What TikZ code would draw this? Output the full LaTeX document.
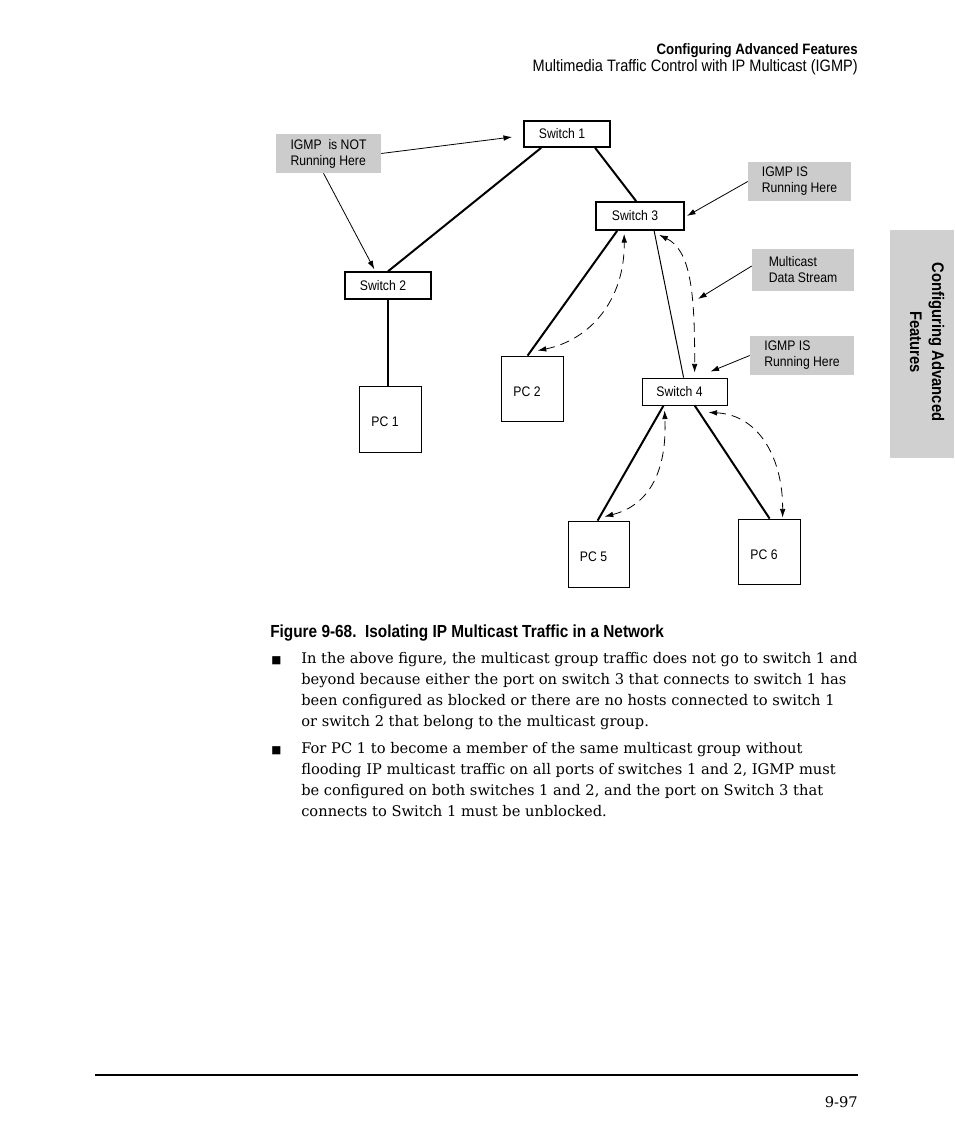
\documentclass[tikz,border=0pt]{standalone}
\usepackage{fontspec}
\newfontfamily\sfc[FakeStretch=0.88]{Liberation Sans}
\newfontfamily\serifc{DejaVu Serif}
\newfontfamily\symf{DejaVu Sans}
\usetikzlibrary{calc,arrows.meta}
\definecolor{notegray}{HTML}{CCCCCC}
\definecolor{tabgray}{HTML}{D0D0D0}
\newcommand{\pclabel}[1]{\raisebox{-2.25pt}[\height][\depth]{#1}\hspace*{7.5pt}}
\begin{document}
\begin{tikzpicture}[x=0.75pt,y=-0.75pt,
  lbl/.style={font=\sfc\fontsize{10.4}{12}\selectfont},
  sw/.style={draw, line width=1.3pt, inner sep=0pt, lbl},
  pcbox/.style={draw, line width=0.6pt, inner sep=0pt, lbl},
  note/.style={fill=notegray, inner sep=0pt, align=left, lbl},
  link/.style={line width=1.5pt},
  thinlink/.style={line width=0.75pt},
  ptr/.style={line width=0.6pt, -{Latex[length=6.5pt,width=4.2pt]}},
  flow/.style={line width=0.6pt, dash pattern=on 7pt off 4.5pt,
    {Latex[length=6.5pt,width=4.2pt]}-{Latex[length=6.5pt,width=4.2pt]}},
  body/.style={anchor=base west, inner sep=0pt},
]
\useasboundingbox (0,0) rectangle (954,1145);

% header
\node[anchor=base east, inner sep=0pt, font=\sfc\bfseries\fontsize{11.3}{13}\selectfont] (h1) at (858,54.5) {Configuring Advanced Features};
\node[anchor=base east, inner sep=0pt, font=\sfc\fontsize{12.4}{14}\selectfont] (h2) at (858,71.5) {Multimedia Traffic Control with IP Multicast (IGMP)};

% side tab
\fill[tabgray] (890,230) rectangle (954,458);
\node[rotate=-90, align=center, inner sep=0pt, font=\sfc\bfseries\fontsize{12.6}{16.5}\selectfont] (tab) at (927,342) {Configuring Advanced\\Features};

% switches and PCs
\node[sw, minimum width=64.5pt, minimum height=19.5pt] (s1) at (567,134) {Switch 1\hspace*{7.5pt}};
\node[sw, minimum width=66pt, minimum height=21pt] (s3) at (640,216) {Switch 3\hspace*{7.5pt}};
\node[sw, line width=1pt, minimum width=64.5pt, minimum height=20.25pt] (s2) at (388,285.5) {Switch 2\hspace*{7.5pt}};
\node[pcbox, minimum width=63.75pt, minimum height=20.25pt] (s4) at (684.5,391.5) {Switch 4\hspace*{7.5pt}};
\node[pcbox, minimum width=46.5pt, minimum height=49.5pt] (pc1) at (390,419) {\pclabel{PC 1}};
\node[pcbox, minimum width=46.5pt, minimum height=48.75pt] (pc2) at (532,388.5) {\pclabel{PC 2}};
\node[pcbox, minimum width=45.75pt, minimum height=49.5pt] (pc5) at (598.5,554) {\pclabel{PC 5}};
\node[pcbox, minimum width=46.5pt, minimum height=48.75pt] (pc6) at (769,551.5) {\pclabel{PC 6}};

% notes
\node[note, minimum width=78.75pt, minimum height=29.25pt] (l1) at (328.5,153.5) {IGMP\ \ is NOT\\Running Here};
\node[note, minimum width=77.25pt, minimum height=29.25pt] (l2) at (799.5,181.5) {IGMP IS\\Running Here};
\node[note, minimum width=76.5pt, minimum height=31.5pt] (l3) at (803,270) {Multicast\\Data Stream};
\node[note, minimum width=78pt, minimum height=29.25pt] (l4) at (802,355.5) {IGMP IS\\Running Here};

% links
\draw[link] ($(s1.south west)+(18,0)$) -- (s2.north);
\draw[link] ($(s1.south west)+(72,0)$) -- ($(s3.north west)+(41,0)$);
\draw[link] (s2.south) -- (s2.south |- pc1.north);
\draw[link] ($(s3.south west)+(22,0)$) -- ($(pc2.north west)+(27,0)$);
\draw[thinlink] ($(s3.south west)+(59,0)$) -- ($(s4.north west)+(42,0)$);
\draw[link] ($(s4.south west)+(22,0)$) -- ($(pc5.north west)+(30,0)$);
\draw[link] ($(s4.south west)+(53,0)$) -- ($(pc6.north west)+(32,0)$);

% multicast flows
\coordinate (f1a) at ($(pc2.north west)+(37,-5)$);
\coordinate (f1b) at ($(s3.south west)+(29,3)$);
\draw[flow] (f1a) .. controls (590,340) and (625,300) .. (f1b);
\coordinate (f2a) at ($(s3.south west)+(64,4)$);
\coordinate (f2b) at ($(s4.north west)+(53,-5)$);
\draw[flow] (f2a) .. controls (690,250) and (695,290) .. (f2b);
\coordinate (f3a) at ($(pc5.north west)+(37,-4)$);
\coordinate (f3b) at ($(s4.south west)+(23,5)$);
\draw[flow] (f3a) .. controls (650,505) and (667,470) .. (f3b);
\coordinate (f4a) at ($(s4.south east)+(-19,7)$);
\coordinate (f4b) at ($(pc6.north west)+(45,-1)$);
\draw[flow] (f4a) .. controls (760,415) and (783,460) .. (f4b);

% pointers
\coordinate (ms) at (698,299);
\draw[ptr] (l1.east) -- ($(s1.west)+(-11,3)$);
\draw[ptr] ($(l1.south)+(-5,0)$) -- ($(s2.north west)+(30,-2)$);
\draw[ptr] (l2.west) -- ($(s3.east)+(2,0)$);
\draw[ptr] ($(l3.west)+(0,-4)$) -- (ms);
\draw[ptr] (l4.west) -- ($(s4.north east)+(-17,-6)$);

% caption and text
\node[anchor=base west, inner sep=0pt, font=\sfc\bfseries\fontsize{13.1}{15}\selectfont] (cap) at (270,637) {Figure 9-68.\ \ Isolating IP Multicast Traffic in a Network};

\node[body, font=\symf\fontsize{8}{8}\selectfont] (b1) at (271,663) {■};
\node[body, font=\serifc\fontsize{11}{15.75}\selectfont] (p1) at (301,663) {\parbox[t]{560pt}{\raggedright
In the above figure, the multicast group traffic does not go to switch 1 and\\
beyond because either the port on switch 3 that connects to switch 1 has\\
been configured as blocked or there are no hosts connected to switch 1\\
or switch 2 that belong to the multicast group.}};
\node[body, font=\symf\fontsize{8}{8}\selectfont] (b2) at (271,753) {■};
\node[body, font=\serifc\fontsize{11}{15.75}\selectfont] (p2) at (301,753) {\parbox[t]{560pt}{\raggedright
For PC 1 to become a member of the same multicast group without\\
flooding IP multicast traffic on all ports of switches 1 and 2, IGMP must\\
be configured on both switches 1 and 2, and the port on Switch 3 that\\
connects to Switch 1 must be unblocked.}};

% footer
\coordinate (rl) at (95,1075);
\coordinate (rr) at (858,1075);
\draw[line width=1.5pt] (rl) -- (rr);
\node[anchor=base east, inner sep=0pt, font=\serifc\fontsize{11}{13}\selectfont] (pg) at (858,1107) {9-97};
\end{tikzpicture}
\end{document}
